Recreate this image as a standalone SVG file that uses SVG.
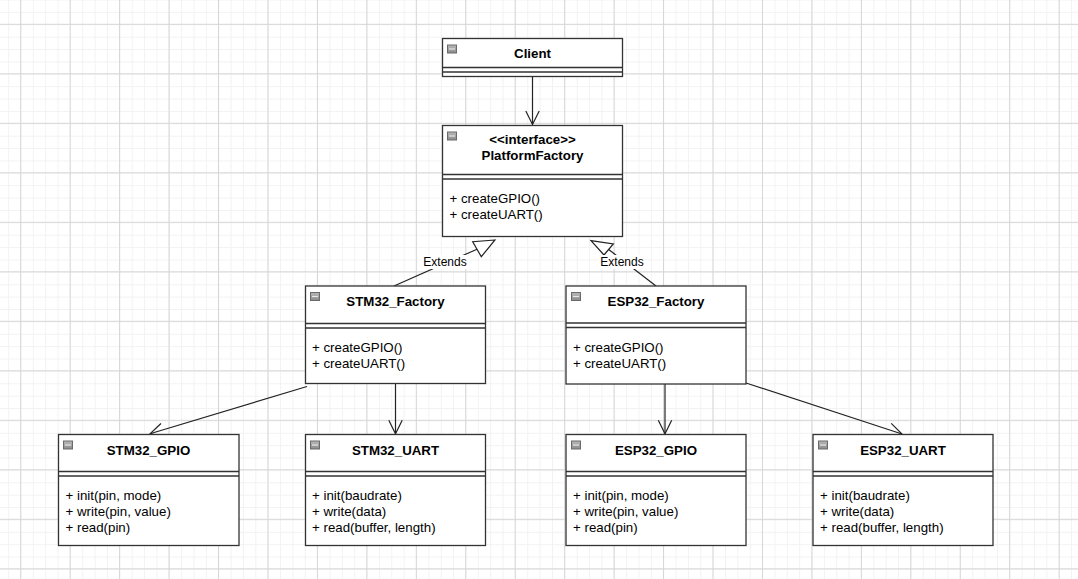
<svg xmlns="http://www.w3.org/2000/svg" width="1078" height="579" viewBox="0 0 1078 579">
<defs>
<pattern id="minor" width="12.36" height="12.38" patternUnits="userSpaceOnUse" x="8.15" y="11.9">
<path d="M0.5,0 V12.38 M0,0.5 H12.36" fill="none" stroke="#f2f2f2" stroke-width="1"/>
</pattern>
<pattern id="major" width="49.45" height="49.5" patternUnits="userSpaceOnUse" x="20.2" y="23.8">
<path d="M0.5,0 V49.5 M0,0.5 H49.45" fill="none" stroke="#d6d6d6" stroke-width="1"/>
</pattern>
<marker id="open" viewBox="0 0 16 16" markerWidth="16" markerHeight="16" refX="15" refY="8" orient="auto" markerUnits="userSpaceOnUse">
<path d="M1.5,1.3 L15,8 L1.5,14.7" fill="none" stroke="#222" stroke-width="1.2"/>
</marker>
<linearGradient id="ig" x1="0" y1="0" x2="0" y2="1">
<stop offset="0" stop-color="#b8b8b8"/>
<stop offset="1" stop-color="#8a8a8a"/>
</linearGradient>
<g id="icon">
<rect x="0.5" y="0.5" width="9" height="8" fill="url(#ig)" stroke="#6a6a6a" stroke-width="1"/>
<line x1="2" y1="4.5" x2="8" y2="4.5" stroke="#e8e8e8" stroke-width="1.2"/>
</g>
</defs>
<style>
.box{fill:#ffffff;stroke:#333333;stroke-width:1.3}
.sep{stroke:#333333;stroke-width:1.3}
.title{font-family:"Liberation Sans",Arial,sans-serif;font-size:13.3px;font-weight:bold;fill:#000;text-anchor:middle}
.m{font-family:"Liberation Sans",Arial,sans-serif;font-size:13.3px;fill:#000}
.lbl{font-family:"Liberation Sans",Arial,sans-serif;font-size:12px;fill:#000;text-anchor:middle}
.edge{fill:none;stroke:#222;stroke-width:1.2}
.tri{fill:#ffffff;stroke:#222;stroke-width:1.2}
</style>
<rect width="1078" height="579" fill="#ffffff"/>
<rect width="1078" height="579" fill="url(#minor)"/>
<rect width="1078" height="579" fill="url(#major)"/>

<g id="connectors">
<line class="edge" x1="532.5" y1="76.5" x2="532.5" y2="124.5" marker-end="url(#open)"/>
<line class="edge" x1="307" y1="386.5" x2="150" y2="433.8" marker-end="url(#open)"/>
<line class="edge" x1="395.5" y1="383.5" x2="395.5" y2="433.8" marker-end="url(#open)"/>
<line class="edge" x1="665" y1="384" x2="665" y2="433.8" marker-end="url(#open)"/>
<line class="edge" x1="746" y1="383" x2="902" y2="434" marker-end="url(#open)"/>
<line class="edge" x1="394" y1="286" x2="477" y2="249.2"/>
<polygon class="tri" points="495,240 472.7,241.7 481.3,256.7"/>
<rect x="422" y="255" width="46" height="14" fill="#ffffff"/>
<text class="lbl" x="445" y="265.5">Extends</text>
<line class="edge" x1="656" y1="286" x2="608.7" y2="249.5"/>
<polygon class="tri" points="591,240.7 613.3,244 604,255"/>
<rect x="599" y="255" width="46" height="14" fill="#ffffff"/>
<text class="lbl" x="622" y="265.5">Extends</text>
</g>

<g id="Client">
<rect class="box" x="442.5" y="38.5" width="180" height="38"/>
<line class="sep" x1="442.5" y1="67.5" x2="622.5" y2="67.5"/>
<line class="sep" x1="442.5" y1="72" x2="622.5" y2="72"/>
<use href="#icon" x="447" y="44.5"/>
<text class="title" x="532.5" y="58">Client</text>
</g>

<g id="PlatformFactory">
<rect class="box" x="442.5" y="125.5" width="180" height="111"/>
<line class="sep" x1="442.5" y1="174.5" x2="622.5" y2="174.5"/>
<line class="sep" x1="442.5" y1="179" x2="622.5" y2="179"/>
<use href="#icon" x="447" y="131.5"/>
<text class="title" x="532.5" y="144">&lt;&lt;interface&gt;&gt;</text>
<text class="title" x="532.5" y="160">PlatformFactory</text>
<text class="m" x="449.5" y="203">+ createGPIO()</text>
<text class="m" x="449.5" y="219">+ createUART()</text>
</g>

<g id="STM32_Factory">
<rect class="box" x="305.5" y="286" width="180" height="97.5"/>
<line class="sep" x1="305.5" y1="323.5" x2="485.5" y2="323.5"/>
<line class="sep" x1="305.5" y1="328" x2="485.5" y2="328"/>
<use href="#icon" x="310" y="292"/>
<text class="title" x="395.5" y="306">STM32_Factory</text>
<text class="m" x="312" y="352">+ createGPIO()</text>
<text class="m" x="312" y="368">+ createUART()</text>
</g>

<g id="ESP32_Factory">
<rect class="box" x="566" y="286" width="180" height="98"/>
<line class="sep" x1="566" y1="323" x2="746" y2="323"/>
<line class="sep" x1="566" y1="327.5" x2="746" y2="327.5"/>
<use href="#icon" x="571" y="292"/>
<text class="title" x="656" y="306">ESP32_Factory</text>
<text class="m" x="573" y="351.5">+ createGPIO()</text>
<text class="m" x="573" y="367.5">+ createUART()</text>
</g>

<g id="STM32_GPIO">
<rect class="box" x="58.5" y="434.5" width="180.5" height="111"/>
<line class="sep" x1="58.5" y1="471.5" x2="239" y2="471.5"/>
<line class="sep" x1="58.5" y1="476" x2="239" y2="476"/>
<use href="#icon" x="63" y="440.5"/>
<text class="title" x="148.5" y="454.5">STM32_GPIO</text>
<text class="m" x="65.5" y="500">+ init(pin, mode)</text>
<text class="m" x="65.5" y="516">+ write(pin, value)</text>
<text class="m" x="65.5" y="532">+ read(pin)</text>
</g>

<g id="STM32_UART">
<rect class="box" x="305.5" y="434.5" width="180" height="111"/>
<line class="sep" x1="305.5" y1="471.5" x2="485.5" y2="471.5"/>
<line class="sep" x1="305.5" y1="476" x2="485.5" y2="476"/>
<use href="#icon" x="310" y="440.5"/>
<text class="title" x="395.5" y="454.5">STM32_UART</text>
<text class="m" x="312" y="500">+ init(baudrate)</text>
<text class="m" x="312" y="516">+ write(data)</text>
<text class="m" x="312" y="532">+ read(buffer, length)</text>
</g>

<g id="ESP32_GPIO">
<rect class="box" x="566" y="434.5" width="180" height="111"/>
<line class="sep" x1="566" y1="471.5" x2="746" y2="471.5"/>
<line class="sep" x1="566" y1="476" x2="746" y2="476"/>
<use href="#icon" x="571" y="440.5"/>
<text class="title" x="656" y="454.5">ESP32_GPIO</text>
<text class="m" x="573" y="500">+ init(pin, mode)</text>
<text class="m" x="573" y="516">+ write(pin, value)</text>
<text class="m" x="573" y="532">+ read(pin)</text>
</g>

<g id="ESP32_UART">
<rect class="box" x="813" y="434.5" width="180" height="111"/>
<line class="sep" x1="813" y1="471.5" x2="993" y2="471.5"/>
<line class="sep" x1="813" y1="476" x2="993" y2="476"/>
<use href="#icon" x="818" y="440.5"/>
<text class="title" x="903" y="454.5">ESP32_UART</text>
<text class="m" x="820" y="500">+ init(baudrate)</text>
<text class="m" x="820" y="516">+ write(data)</text>
<text class="m" x="820" y="532">+ read(buffer, length)</text>
</g>
</svg>
